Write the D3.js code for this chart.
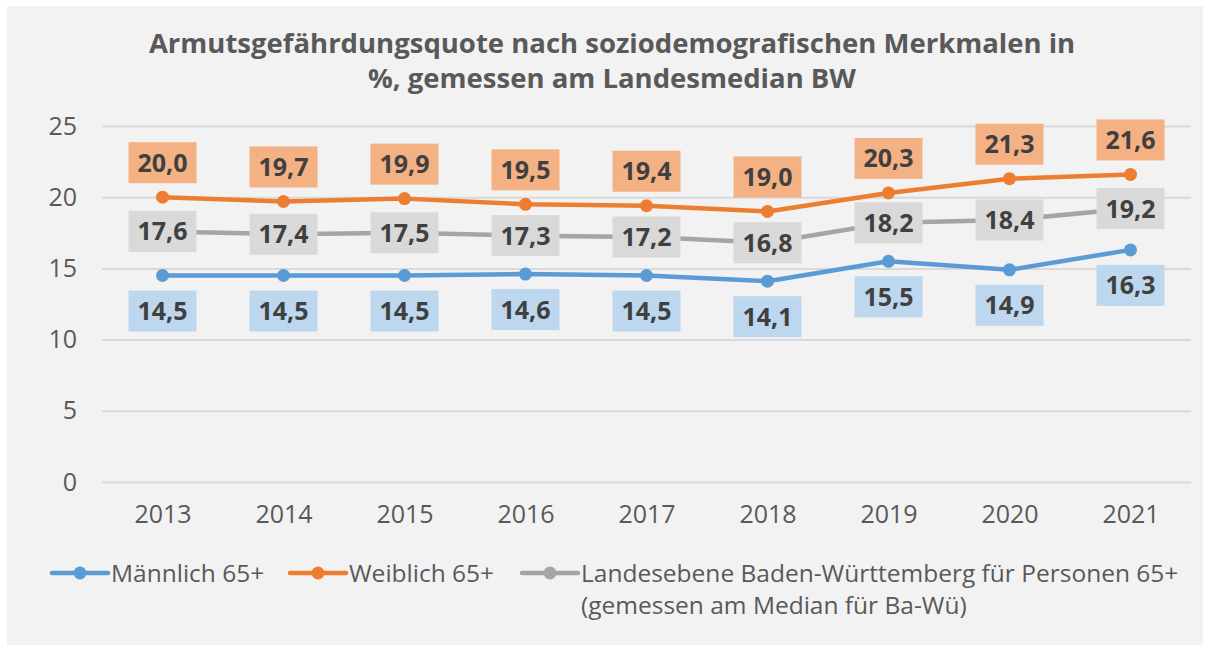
<!DOCTYPE html>
<html>
<head>
<meta charset="utf-8">
<script src="https://cdn.jsdelivr.net/npm/d3@7"></script>
<style>
  body { margin: 0; background: #fff; }
  svg text { font-family: "Open Sans", "Noto Sans", sans-serif; }
</style>
</head>
<body>
<svg id="chart" width="1209" height="645"></svg>
<script>
// data
var years = ["2013", "2014", "2015", "2016", "2017", "2018", "2019", "2020", "2021"];
var maennlich = [14.5, 14.5, 14.5, 14.6, 14.5, 14.1, 15.5, 14.9, 16.3];
var weiblich = [20.0, 19.7, 19.9, 19.5, 19.4, 19.0, 20.3, 21.3, 21.6];
var landes = [17.6, 17.4, 17.5, 17.3, 17.2, 16.8, 18.2, 18.4, 19.2];
var yTicks = [0, 5, 10, 15, 20, 25];
var titleLines = ["Armutsgefährdungsquote nach soziodemografischen Merkmalen in",
                  "%, gemessen am Landesmedian BW"];

var series = [
  { name: ["Männlich 65+"], values: maennlich, color: "#5b9bd5", box: "#bdd7ee", pos: "below" },
  { name: ["Weiblich 65+"], values: weiblich, color: "#ed7d31", box: "#f4b183", pos: "above" },
  { name: ["Landesebene Baden-Württemberg für Personen 65+", "(gemessen am Median für Ba-Wü)"],
    values: landes, color: "#a5a5a5", box: "#d9d9d9", pos: "center" }
];

var de = d3.formatLocale({ decimal: ",", thousands: ".", grouping: [3], currency: ["", " €"] });
var fmt = de.format(".1f");

var svg = d3.select("#chart");

svg.append("rect")
  .attr("x", 7).attr("y", 6)
  .attr("width", 1196).attr("height", 639)
  .attr("fill", "#f2f2f2");

// title
svg.append("g").selectAll("text")
  .data(titleLines)
  .enter().append("text")
  .attr("x", 612)
  .attr("y", function(d, i) { return 53 + i * 35; })
  .attr("text-anchor", "middle")
  .attr("font-size", 27.5)
  .attr("font-weight", "bold")
  .attr("fill", "#595959")
  .text(function(d) { return d; });

var x = d3.scalePoint()
  .domain(years)
  .range([102, 1191])
  .padding(0.5);

var y = d3.scaleLinear()
  .domain([0, 25])
  .range([482, 126]);

// gridlines + y labels
var yAxis = svg.append("g")
  .attr("transform", "translate(102,0)")
  .call(d3.axisLeft(y).tickValues(yTicks).tickSize(-1089).tickPadding(25));
yAxis.select(".domain").remove();
yAxis.selectAll("line").attr("stroke", "#d9d9d9").attr("stroke-width", 2);
yAxis.selectAll("text")
  .attr("font-size", 25)
  .attr("fill", "#595959");

// x labels
var xAxis = svg.append("g")
  .attr("transform", "translate(0,482)")
  .call(d3.axisBottom(x).tickSize(0).tickPadding(23));
xAxis.select(".domain").remove();
xAxis.selectAll("text")
  .attr("font-size", 25)
  .attr("fill", "#595959");

var line = d3.line()
  .x(function(d, i) { return x(years[i]); })
  .y(function(d) { return y(d); });

series.forEach(function(s) {
  svg.append("path")
    .datum(s.values)
    .attr("d", line)
    .attr("fill", "none")
    .attr("stroke", s.color)
    .attr("stroke-width", 4.5)
    .attr("stroke-linejoin", "round");

  svg.append("g").selectAll("circle")
    .data(s.values)
    .enter().append("circle")
    .attr("cx", function(d, i) { return x(years[i]); })
    .attr("cy", function(d) { return y(d); })
    .attr("r", 6.5)
    .attr("fill", s.color);
});

// data labels
var boxW = 68, boxH = 41;
series.forEach(function(s) {
  var g = svg.append("g").selectAll("g")
    .data(s.values)
    .enter().append("g")
    .attr("transform", function(d, i) {
      var cy = y(d);
      if (s.pos == "above") cy = cy - 14 - boxH / 2;
      else if (s.pos == "below") cy = cy + 15 + boxH / 2;
      return "translate(" + x(years[i]) + "," + cy + ")";
    });
  g.append("rect")
    .attr("x", -boxW / 2).attr("y", -boxH / 2)
    .attr("width", boxW).attr("height", boxH)
    .attr("fill", s.box);
  g.append("text")
    .attr("text-anchor", "middle")
    .attr("dy", "0.36em")
    .attr("font-size", 25)
    .attr("font-weight", "bold")
    .attr("fill", "#404040")
    .text(function(d) { return fmt(d); });
});

// legend
var legendX = [52, 290, 522];
series.forEach(function(s, i) {
  var lg = svg.append("g").attr("transform", "translate(" + legendX[i] + ",573)");
  lg.append("line")
    .attr("x1", 0).attr("x2", 56)
    .attr("stroke", s.color).attr("stroke-width", 4.5).attr("stroke-linecap", "round");
  lg.append("circle").attr("cx", 28).attr("r", 6.5).attr("fill", s.color);
  lg.selectAll("text")
    .data(s.name)
    .enter().append("text")
    .attr("x", 59)
    .attr("y", function(d, j) { return j * 32; })
    .attr("dy", "0.35em")
    .attr("font-size", 24.5)
    .attr("fill", "#595959")
    .text(function(d) { return d; });
});
</script>
</body>
</html>
